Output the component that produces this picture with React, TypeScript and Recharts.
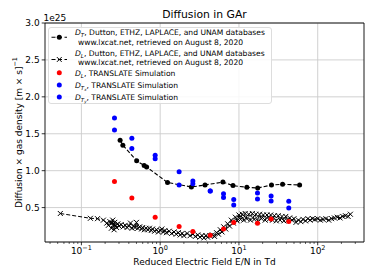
import React from 'react';
import { ScatterChart, Scatter, XAxis, YAxis, CartesianGrid, ReferenceLine } from 'recharts';

const FONT = '"DejaVu Sans", Verdana, sans-serif';

// ---------- data (values in units of 1e25) ----------
// D_T, lxcat databases
const DT_DB_X = [0.310, 0.336, 0.503, 0.626, 0.673, 1.24, 2.49, 3.71, 6.26, 8.40, 12.6, 17.3, 25.9, 35.8, 58.9];
const DT_DB_Y = [1.412, 1.344, 1.134, 1.069, 1.050, 0.840, 0.779, 0.806, 0.846, 0.798, 0.775, 0.766, 0.806, 0.816, 0.806];

// D_L, lxcat databases (several databases interleaved)
const DL_DB_X = [
  0.054, 0.13, 0.16, 0.19, 0.21, 0.22, 0.23, 0.24, 0.245, 0.25, 0.255, 0.26, 0.265, 0.27, 0.28, 0.29, 0.30,
  0.32, 0.34, 0.36, 0.38, 0.40, 0.42, 0.44, 0.46, 0.48, 0.50, 0.52, 0.55, 0.58, 0.60, 0.63, 0.66, 0.70, 0.73,
  0.77, 0.80, 0.85, 0.90, 0.95, 1.00, 1.05, 1.10, 1.15, 1.20, 1.30, 1.40, 1.50, 1.60, 1.70, 1.80, 1.90, 2.00,
  2.20, 2.40, 2.60, 2.80, 3.00, 3.20, 3.40, 3.60, 3.80, 4.00, 4.30, 4.60, 4.90, 5.20, 5.50, 5.80, 6.10, 6.40,
  6.80, 7.20, 7.60, 8.00, 8.50, 9.00, 9.50, 10.0, 10.5, 11.0, 11.5, 12.0, 12.6, 13.3, 14.0, 14.8, 15.6, 16.4,
  17.3, 18.3, 19.3, 20.4, 21.5, 22.7, 24.0, 25.3, 26.7, 28.2, 29.8, 31.5, 33.3, 35.2, 37.2, 39.3, 41.5, 44.0,
  47, 50, 53, 57, 61, 65, 70, 75, 80, 86, 92, 100, 108, 117, 127, 138, 150, 163, 177, 192, 208, 225, 243, 260,
];
const DL_DB_Y = [
  0.42, 0.355, 0.35, 0.33, 0.29, 0.26, 0.31, 0.22, 0.29, 0.33, 0.25, 0.20, 0.30, 0.26, 0.23, 0.28, 0.25,
  0.27, 0.24, 0.26, 0.23, 0.25, 0.29, 0.22, 0.25, 0.23, 0.30, 0.22, 0.24, 0.21, 0.23, 0.20, 0.22, 0.20, 0.22,
  0.19, 0.21, 0.18, 0.20, 0.17, 0.19, 0.21, 0.17, 0.19, 0.16, 0.18, 0.15, 0.17, 0.14, 0.16, 0.13, 0.15, 0.12,
  0.15, 0.12, 0.14, 0.11, 0.13, 0.10, 0.12, 0.09, 0.12, 0.10, 0.12, 0.13, 0.11, 0.16, 0.14, 0.20, 0.17, 0.24,
  0.21, 0.28, 0.25, 0.33, 0.29, 0.37, 0.32, 0.40, 0.34, 0.41, 0.33, 0.42, 0.35, 0.41, 0.33, 0.42, 0.34, 0.41,
  0.32, 0.41, 0.35, 0.40, 0.33, 0.40, 0.34, 0.40, 0.33, 0.39, 0.32, 0.39, 0.33, 0.38, 0.32, 0.38, 0.33, 0.36,
  0.33, 0.35, 0.30, 0.33, 0.31, 0.34, 0.32, 0.35, 0.33, 0.35, 0.34, 0.35, 0.33, 0.34, 0.35, 0.33, 0.35, 0.36,
  0.37, 0.36, 0.38, 0.39, 0.38, 0.41,
];

// TRANSLATE simulation
const SIM_X = [0.263, 0.437, 0.864, 1.74, 2.60, 4.32, 6.37, 8.59, 17.2, 25.6, 42.9];
const SIM_DL = [0.852, 0.630, 0.369, 0.243, 0.175, 0.125, 0.210, 0.298, 0.287, 0.346, 0.312];
const SIM_DTX = [1.714, 1.439, 1.209, 0.985, 0.860, 0.725, 0.687, 0.610, 0.696, 0.656, 0.585];
const SIM_DTY = [1.551, 1.299, 1.161, 0.806, 0.822, 0.725, 0.637, 0.534, 0.617, 0.588, 0.495];

// axes
const X_DOMAIN = [0.0345, 387];
const Y_DOMAIN = [0.034, 3.0];
const MAJOR_X = [0.1, 1, 10, 100];
const MAJOR_X_EXP = ['\u22121', '0', '1', '2'];
const MINOR_X = [
  0.04, 0.05, 0.06, 0.07, 0.08, 0.09,
  0.2, 0.3, 0.4, 0.5, 0.6, 0.7, 0.8, 0.9,
  2, 3, 4, 5, 6, 7, 8, 9,
  20, 30, 40, 50, 60, 70, 80, 90,
  200, 300,
];
const Y_TICKS = [0.5, 1.0, 1.5, 2.0, 2.5, 3.0];

const TITLE = 'Diffusion in GAr';
const X_LABEL = 'Reduced Electric Field E/N in Td';
const Y_LABEL = 'Diffusion \u00d7 gas density [m \u00d7 s]';
const Y_OFFSET = '1e25';
const DB_SOURCE = 'www.lxcat.net, retrieved on August 8, 2020';

const zip = (xs: number[], ys: number[]) => xs.map((x, i) => ({ x, y: ys[i] }));

const dtDb = zip(DT_DB_X, DT_DB_Y);
const dlDb = zip(DL_DB_X, DL_DB_Y);
const simDl = zip(SIM_X, SIM_DL);
const simDtx = zip(SIM_X, SIM_DTX);
const simDty = zip(SIM_X, SIM_DTY);

const XTick = (props: any) => {
  const { x, y, payload } = props;
  const idx = MAJOR_X.indexOf(payload.value);
  if (idx < 0) {
    return <line x1={x} x2={x} y1={y} y2={y + 2} stroke="#000" strokeWidth={0.6} />;
  }
  return (
    <g>
      <line x1={x} x2={x} y1={y} y2={y + 3.3} stroke="#000" strokeWidth={0.8} />
      <text x={x} y={y + 11.5} textAnchor="middle" fontSize={9} fontFamily={FONT} fill="#000">
        10<tspan dy={-4} fontSize={6.5}>{MAJOR_X_EXP[idx]}</tspan>
      </text>
    </g>
  );
};

const XLabel = (props: any) => {
  const vb = props.viewBox || { x: 45, y: 242, width: 319, height: 38 };
  return (
    <text x={vb.x + vb.width / 2} y={vb.y + 23} textAnchor="middle" fontSize={9} fontFamily={FONT} fill="#000">
      {X_LABEL}
    </text>
  );
};

const YLabel = (props: any) => {
  const vb = props.viewBox || { x: 0, y: 23, width: 45, height: 219 };
  const cx = vb.x + 18.5;
  const cy = vb.y + vb.height / 2;
  return (
    <text
      x={cx}
      y={cy}
      transform={`rotate(-90, ${cx}, ${cy})`}
      textAnchor="middle"
      dominantBaseline="central"
      fontSize={9}
      fontFamily={FONT}
      fill="#000"
    >
      {Y_LABEL}
      <tspan dy={-3.5} fontSize={6.5}>{'\u22121'}</tspan>
    </text>
  );
};

const dotShape = (color: string, r: number) => (props: any) =>
  <circle cx={props.cx} cy={props.cy} r={r} fill={color} />;

const XMark = (props: any) => {
  const { cx, cy } = props;
  const s = 2.5;
  return (
    <path
      d={`M${cx - s},${cy - s}L${cx + s},${cy + s}M${cx - s},${cy + s}L${cx + s},${cy - s}`}
      stroke="#000"
      strokeWidth={1}
      fill="none"
    />
  );
};

const gridX = (p: any) => {
  const ax = p && p.xAxis;
  if (ax && typeof ax.scale === 'function') return MAJOR_X.map((v) => ax.scale(v));
  const off = p.offset;
  const l0 = Math.log10(X_DOMAIN[0]);
  const l1 = Math.log10(X_DOMAIN[1]);
  return MAJOR_X.map((v) => off.left + (off.width * (Math.log10(v) - l0)) / (l1 - l0));
};

const Sub = ({ children }: any) => (
  <sub style={{ fontSize: '72%', verticalAlign: '-0.3em', lineHeight: 0 }}>{children}</sub>
);

const LEG_LEFT = 48;
const LEG_TOP = 27;

const LegendBox = () => {
  const textLine = (content: any, cy: number, x: number, key: string) => (
    <div
      key={key}
      style={{
        position: 'absolute',
        left: x - LEG_LEFT,
        top: cy - LEG_TOP - 5,
        height: 10,
        lineHeight: '10px',
        fontSize: 7.6,
        whiteSpace: 'nowrap',
        color: '#000',
      }}
    >
      {content}
    </div>
  );
  const hx0 = 51.5 - LEG_LEFT;
  const hx1 = 67 - LEG_LEFT;
  const mx = 59.3 - LEG_LEFT;
  const h1 = 37.3 - LEG_TOP;
  const h2 = 59.5 - LEG_TOP;
  const h3 = 72.7 - LEG_TOP;
  const h4 = 85 - LEG_TOP;
  const h5 = 97 - LEG_TOP;
  const s = 2.4;
  return (
    <div
      style={{
        position: 'absolute',
        left: LEG_LEFT,
        top: LEG_TOP,
        width: 224,
        height: 77,
        boxSizing: 'border-box',
        background: 'rgba(255,255,255,0.85)',
        border: '1px solid #dddddd',
        borderRadius: 3,
        fontFamily: FONT,
      }}
    >
      <svg width={40} height={77} style={{ position: 'absolute', left: -1, top: -1 }}>
        <line x1={hx0} x2={hx1} y1={h1} y2={h1} stroke="#000" strokeWidth={1.1} strokeDasharray="4 2.5" />
        <circle cx={mx} cy={h1} r={2.5} fill="#000" />
        <line x1={hx0} x2={hx1} y1={h2} y2={h2} stroke="#000" strokeWidth={1.1} strokeDasharray="4 2.5" />
        <path d={`M${mx - s},${h2 - s}L${mx + s},${h2 + s}M${mx - s},${h2 + s}L${mx + s},${h2 - s}`} stroke="#000" strokeWidth={1} />
        <circle cx={mx} cy={h3} r={2.5} fill="#ff0000" />
        <circle cx={mx} cy={h4} r={2.5} fill="#0000ff" />
        <circle cx={mx} cy={h5} r={2.5} fill="#0000ff" />
      </svg>
      {textLine(<><i>D</i><Sub><i>T</i></Sub>, Dutton, ETHZ, LAPLACE, and UNAM databases</>, 32.3, 74, 'a1')}
      {textLine(DB_SOURCE, 41.7, 77, 'a2')}
      {textLine(<><i>D</i><Sub><i>L</i></Sub>, Dutton, ETHZ, LAPLACE, and UNAM databases</>, 53.3, 74, 'b1')}
      {textLine(DB_SOURCE, 62, 77, 'b2')}
      {textLine(<><i>D</i><Sub><i>L</i></Sub>, TRANSLATE Simulation</>, 72.7, 74, 'c')}
      {textLine(<><i>D</i><Sub><i>T</i><Sub><i>x</i></Sub></Sub>, TRANSLATE Simulation</>, 85, 74, 'd')}
      {textLine(<><i>D</i><Sub><i>T</i><Sub><i>y</i></Sub></Sub>, TRANSLATE Simulation</>, 97, 74, 'e')}
    </div>
  );
};

export default function App() {
  return (
    <div
      style={{
        position: 'absolute',
        left: 0,
        top: 0,
        width: 374,
        height: 280,
        background: '#fff',
        fontFamily: FONT,
        overflow: 'hidden',
      }}
    >
      <ScatterChart width={374} height={280} margin={{ top: 23, right: 10, bottom: 0, left: 0 }}>
        <CartesianGrid stroke="#cccccc" strokeWidth={0.9} verticalCoordinatesGenerator={gridX} />
        <XAxis
          type="number"
          dataKey="x"
          scale="log"
          domain={X_DOMAIN}
          allowDataOverflow
          ticks={[...MAJOR_X, ...MINOR_X]}
          interval={0}
          tick={<XTick />}
          tickLine={false}
          tickSize={0}
          tickMargin={0}
          height={38}
          axisLine={{ stroke: '#000', strokeWidth: 0.9 }}
          label={{ content: XLabel }}
        />
        <YAxis
          type="number"
          dataKey="y"
          domain={Y_DOMAIN}
          allowDataOverflow
          ticks={Y_TICKS}
          interval={0}
          tickFormatter={(v: number) => v.toFixed(1)}
          tick={{ fill: '#000', fontSize: 9, fontFamily: FONT }}
          tickLine={{ stroke: '#000', strokeWidth: 0.8 }}
          tickSize={3.3}
          tickMargin={2}
          width={45}
          axisLine={{ stroke: '#000', strokeWidth: 0.9 }}
          label={{ content: YLabel }}
        />
        <ReferenceLine y={Y_DOMAIN[1]} stroke="#000" strokeWidth={0.9} ifOverflow="visible" />
        <ReferenceLine x={X_DOMAIN[1]} stroke="#000" strokeWidth={0.9} ifOverflow="visible" />
        <Scatter
          name="D_T lxcat"
          data={dtDb}
          line={{ stroke: '#000', strokeWidth: 1.1, strokeDasharray: '4 2' }}
          lineType="joint"
          shape={dotShape('#000', 2.5)}
          isAnimationActive={false}
        />
        <Scatter
          name="D_L lxcat"
          data={dlDb}
          line={{ stroke: '#000', strokeWidth: 1.0, strokeDasharray: '4 2' }}
          lineType="joint"
          shape={XMark}
          isAnimationActive={false}
        />
        <Scatter name="D_L TRANSLATE" data={simDl} shape={dotShape('#ff0000', 2.5)} isAnimationActive={false} />
        <Scatter name="D_Tx TRANSLATE" data={simDtx} shape={dotShape('#0000ff', 2.5)} isAnimationActive={false} />
        <Scatter name="D_Ty TRANSLATE" data={simDty} shape={dotShape('#0000ff', 2.5)} isAnimationActive={false} />
      </ScatterChart>
      <svg width={374} height={30} style={{ position: 'absolute', left: 0, top: 0, pointerEvents: 'none' }}>
        <text x={204.5} y={18.3} textAnchor="middle" fontSize={10.8} fontFamily={FONT} fill="#000">
          {TITLE}
        </text>
        <text x={43.5} y={21} fontSize={9} fontFamily={FONT} fill="#000">
          {Y_OFFSET}
        </text>
      </svg>
      <LegendBox />
    </div>
  );
}
